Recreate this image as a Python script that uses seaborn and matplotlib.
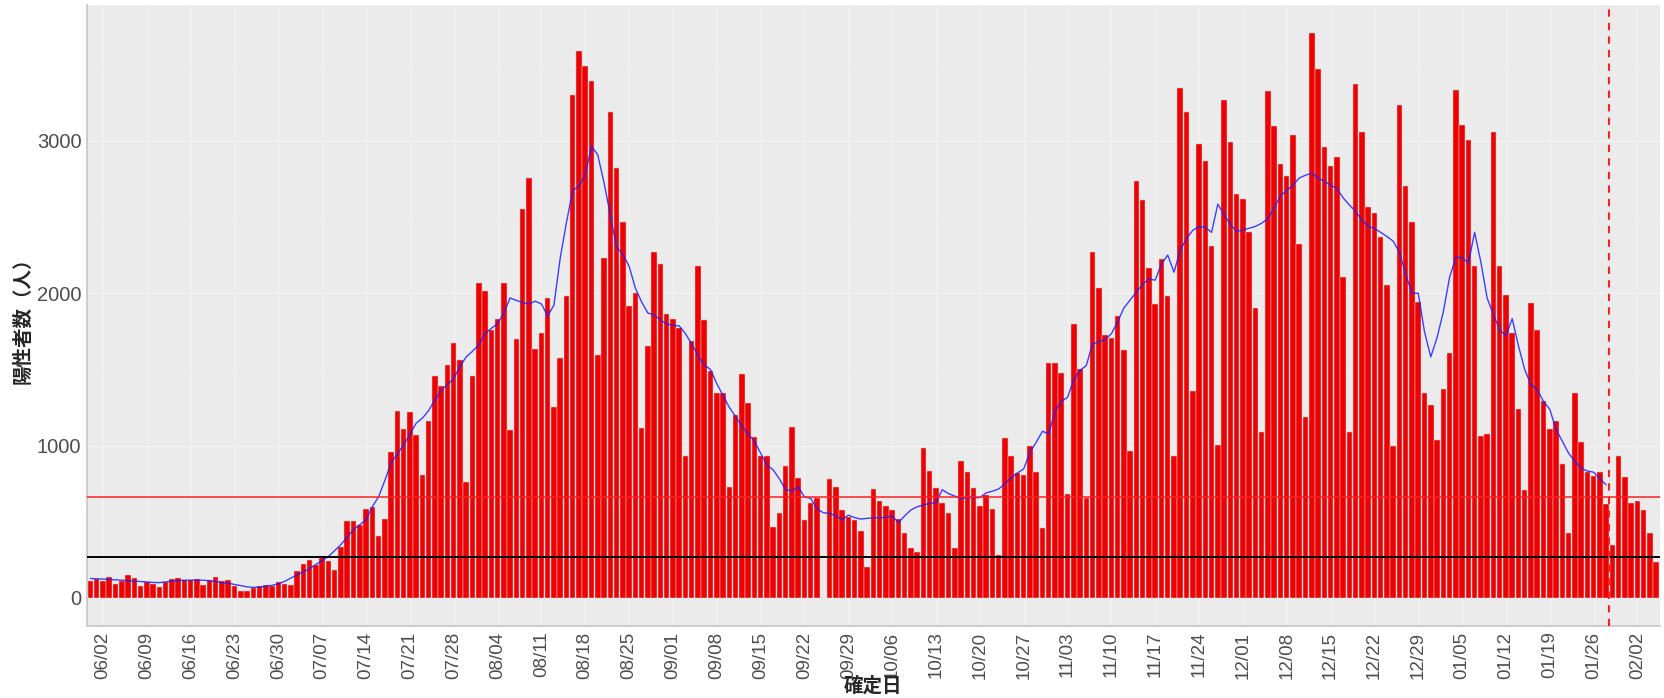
import numpy as np
import pandas as pd
import matplotlib
matplotlib.use('Agg')
import matplotlib.pyplot as plt
import seaborn as sns

# ---------------- data ----------------
start_date = '2020-05-31'

positives = [
    110, 125, 110, 134, 88, 110, 151, 132, 77, 103,
    88, 68, 103, 123, 129, 118, 118, 121, 83, 114,
    140, 110, 115, 76, 42, 47, 63, 76, 84, 76,
    107, 91, 81, 178, 219, 251, 214, 277, 245, 185,
    337, 507, 507, 475, 585, 598, 407, 520, 956, 1225,
    1107, 1222, 1071, 804, 1159, 1454, 1389, 1530, 1671, 1561,
    760, 1454, 2065, 2013, 1760, 1830, 2065, 1104, 1700, 2554,
    2757, 1634, 1742, 1966, 1256, 1572, 1979, 3300, 3588, 3491,
    3397, 1595, 2232, 3193, 2823, 2467, 1919, 2005, 1112, 1655,
    2274, 2193, 1864, 1833, 1773, 930, 1687, 2178, 1825, 1491,
    1342, 1342, 728, 1198, 1470, 1279, 1055, 930, 930, 462,
    554, 864, 1120, 786, 512, 624, 655, 0, 783, 728,
    574, 533, 512, 439, 204, 713, 637, 601, 574, 520,
    423, 329, 303, 987, 836, 718, 624, 556, 329, 901,
    825, 721, 603, 674, 585, 279, 1050, 930, 820, 809,
    995, 825, 460, 1543, 1543, 1478, 681, 1799, 1504, 655,
    2269, 2034, 1729, 1708, 1849, 1629, 961, 2739, 2614, 2167,
    1932, 2225, 1984, 930, 3345, 3193, 1355, 2979, 2867, 2308,
    1005, 3272, 2992, 2655, 2616, 2405, 1901, 1091, 3326, 3097,
    2851, 2770, 3037, 2324, 1185, 3708, 3475, 2963, 2836, 2893,
    2104, 1086, 3371, 3060, 2567, 2525, 2368, 2052, 997, 3235,
    2705, 2467, 1943, 1342, 1264, 1039, 1373, 1608, 3334, 3104,
    3008, 2178, 1065, 1073, 3060, 2178, 1990, 1739, 1238, 710,
    1937, 1760, 1290, 1107, 1159, 880, 428, 1342, 1021, 825,
    799, 828, 616, 345, 932, 794, 624, 634, 577, 423,
    232,
]

# 7日移動平均
moving_avg = [
    127, 125, 123, 120, 118, 116, 113, 110, 107, 104,
    101, 100, 104, 110, 114, 115, 116, 116, 116, 112,
    106, 100, 96, 88, 80, 72, 68, 70, 76, 82,
    92, 108, 130, 150, 170, 192, 219, 245, 272, 310,
    350, 400, 449, 480, 512, 598, 663, 770, 885, 945,
    1003, 1075, 1146, 1180, 1230, 1300, 1363, 1400, 1440, 1520,
    1582, 1620, 1660, 1734, 1770, 1799, 1870, 1969, 1953, 1940,
    1930, 1948, 1930, 1851, 1922, 2230, 2465, 2674, 2705, 2778,
    2966, 2909, 2726, 2517, 2303, 2256, 2178, 2034, 1943, 1870,
    1859, 1825, 1799, 1789, 1786, 1734, 1668, 1590, 1530, 1499,
    1407, 1329, 1251, 1191, 1128, 1076, 1029, 950, 872, 841,
    781, 710, 702, 728, 663, 653, 585, 559, 554, 538,
    512, 543, 527, 517, 522, 525, 527, 527, 540, 493,
    538, 577, 598, 610, 621, 624, 710, 684, 668, 650,
    658, 658, 658, 689, 700, 715, 747, 790, 820, 846,
    956, 1021, 1094, 1076, 1225, 1290, 1316, 1433, 1494, 1525,
    1668, 1681, 1695, 1734, 1812, 1903, 1956, 2008, 2060, 2094,
    2086, 2191, 2251, 2138, 2282, 2360, 2413, 2439, 2433, 2400,
    2585, 2517, 2452, 2407, 2415, 2427, 2439, 2460, 2490, 2560,
    2640, 2674, 2710, 2757, 2775, 2789, 2757, 2735, 2710, 2690,
    2627, 2580, 2538, 2480, 2440, 2426, 2400, 2373, 2342, 2269,
    2125, 2000, 2000, 1747, 1582, 1708, 1877, 2104, 2235, 2235,
    2198, 2400, 2204, 1969, 1860, 1760, 1721, 1833, 1655, 1499,
    1400, 1368, 1290, 1238, 1107, 1029, 950, 898, 851, 833,
    825, 781, 742,
]

upper_line = 660
lower_line = 265
marker_date = '2021-01-28'

dates = pd.date_range(start_date, periods=len(positives))
df = pd.DataFrame({'day': np.arange(len(positives)), 'date': dates, 'n': positives})
df_avg = pd.DataFrame({'day': np.arange(len(moving_avg)), 'n': moving_avg})

# ---------------- plot ----------------
sns.set_theme(style='darkgrid', rc={'axes.facecolor': '#EBEBEB',
                                    'grid.color': '#F4F4F4',
                                    'axes.edgecolor': '#C8C8C8'})
plt.rcParams['font.family'] = ['Liberation Sans', 'Noto Sans CJK JP']

fig, ax = plt.subplots(figsize=(16.65, 6.98), dpi=100)
fig.subplots_adjust(left=87/1665, right=1660/1665, top=1-5/698, bottom=1-626/698)

sns.barplot(data=df, x='day', y='n', color='#EE0000', saturation=1,
            width=0.88, edgecolor='#CFCFCF', linewidth=0.35, ax=ax, zorder=2)
sns.lineplot(data=df_avg, x='day', y='n', color='#2020FF', alpha=0.85,
             linewidth=1.0, ax=ax, zorder=3)

ax.axhline(upper_line, color='#FF2020', linewidth=1.1, zorder=4)
ax.axhline(lower_line, color='black', linewidth=1.4, zorder=4)
marker_day = df.loc[df['date'] == marker_date, 'day'].iloc[0] + 0.5
ax.axvline(marker_day, color='#FF2020', linewidth=1.5, linestyle=(0, (3.5, 3)), zorder=4)

# weekly ticks starting from 06/02
tick_days = df['day'][2::7]
tick_labels = df['date'][2::7].dt.strftime('%m/%d')
ax.set_xticks(tick_days)
ax.set_xticklabels(tick_labels, rotation=90, fontsize=13.5, color='#4D4D4D')
ax.set_yticks([0, 1000, 2000, 3000])
ax.set_yticks([500, 1500, 2500, 3500], minor=True)
ax.tick_params(axis='y', labelsize=14.5, labelcolor='#4D4D4D', length=0, pad=4)
ax.tick_params(axis='x', length=3, color='#888888', pad=1)
ax.grid(which='minor', axis='y', color='#F0F0F0', linewidth=0.5)
ax.grid(which='major', color='#F4F4F4', linewidth=0.8)

ax.set_xlim(-0.55, len(positives) - 0.4)
ax.set_ylim(-185, 3893)

ax.set_xlabel('確定日', fontsize=14, fontweight='bold', labelpad=-2)
ax.set_ylabel('陽性者数（人）', fontsize=14, fontweight='bold', labelpad=3)

for side in ['top', 'right']:
    ax.spines[side].set_visible(False)

plt.savefig('out.png', dpi=100)
